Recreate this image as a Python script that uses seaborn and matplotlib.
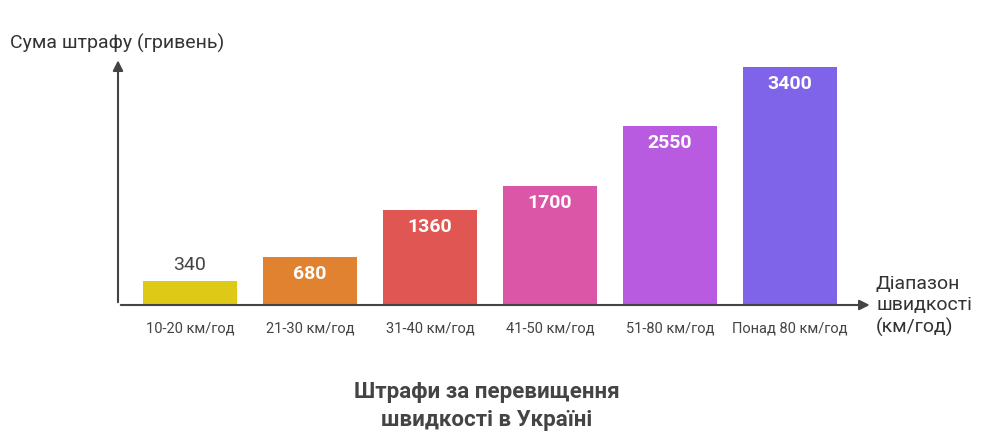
import matplotlib
matplotlib.use("Agg")
import matplotlib.pyplot as plt
import seaborn as sns
import pandas as pd

categories = ["10-20 км/год", "21-30 км/год", "31-40 км/год", "41-50 км/год", "51-80 км/год", "Понад 80 км/год"]
values = [340, 680, 1360, 1700, 2550, 3400]
colors = ["#DEC916", "#E0822F", "#E05652", "#DB56A6", "#B95BE1", "#7F63E8"]

plt.rcParams["font.family"] = "Roboto"
df = pd.DataFrame({"cat": categories, "val": values})
W, H = 992, 443
fig = plt.figure(figsize=(W/100, H/100), dpi=100)
ax = fig.add_axes([118/W, (H-305)/H, (865-118)/W, (305-60)/H])
sns.barplot(data=df, x="cat", y="val", hue="cat", palette=colors, legend=False, width=0.78, ax=ax, saturation=1)
ax.set_xlim(-0.6, 5.625)
ax.set_ylim(0, 3500)
for s in ax.spines.values():
    s.set_visible(False)
ax.set_yticks([])
ax.tick_params(axis="x", length=0, pad=12, labelsize=10.5, labelcolor="#444444")
ax.set_xlabel(""); ax.set_ylabel("")
for i, v in enumerate(values):
    if i == 0:
        ax.text(i, v + 110, str(v), ha="center", va="bottom", fontsize=14, color="#444444")
    else:
        ax.text(i, v - 110, str(v), ha="center", va="top", fontsize=14, color="white", fontweight="bold")
arr = dict(arrowstyle="-|>,head_length=0.6,head_width=0.3", color="#444444", lw=1.5)
ax.annotate("", xy=(0, 1.01), xytext=(0, 0), xycoords="axes fraction", arrowprops=arr)
ax.annotate("", xy=(1.01, 0), xytext=(0, 0), xycoords="axes fraction", arrowprops=arr)
fig.text(10/W, 1-43/H, "Сума штрафу (гривень)", fontsize=14, color="#333333", va="center")
fig.text(876/W, 1-306/H, "Діапазон\nшвидкості\n(км/год)", fontsize=14, color="#333333", va="center", linespacing=1.25)
fig.text(487/W, 1-406/H, "Штрафи за перевищення\nшвидкості в Україні", fontsize=16, fontweight="bold",
         color="#444444", ha="center", va="center", linespacing=1.35)
fig.savefig("out.png", dpi=100)
